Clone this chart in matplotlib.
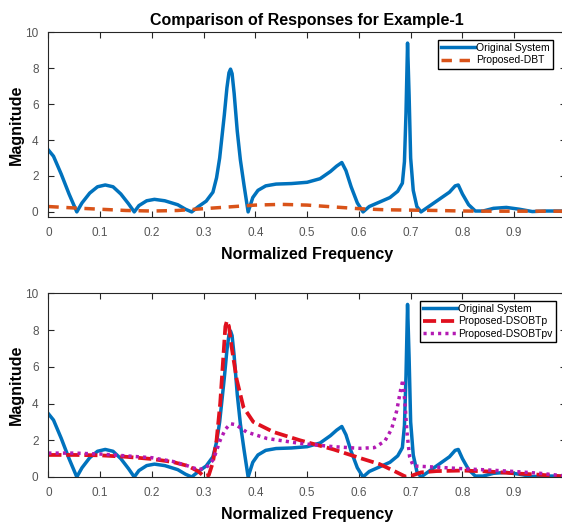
import numpy as np
import matplotlib
matplotlib.use("Agg")
import matplotlib.pyplot as plt

plt.rcParams['font.family'] = ['Liberation Sans', 'DejaVu Sans']

# Original system (same curve in both panels)
f_orig = [0.000, 0.010, 0.025, 0.040, 0.055, 0.065, 0.080, 0.095, 0.110, 0.125,
          0.140, 0.155, 0.166, 0.175, 0.190, 0.205, 0.225, 0.250, 0.265, 0.277,
          0.290, 0.305, 0.318, 0.325, 0.331, 0.340, 0.345, 0.349, 0.352, 0.355,
          0.359, 0.365, 0.371, 0.378, 0.386, 0.395, 0.405, 0.420, 0.440, 0.470,
          0.500, 0.525, 0.545, 0.557, 0.567, 0.575, 0.585, 0.597, 0.608, 0.620,
          0.640, 0.660, 0.675, 0.684, 0.688, 0.691, 0.694, 0.697, 0.700, 0.705,
          0.712, 0.720, 0.735, 0.755, 0.775, 0.786, 0.792, 0.800, 0.812, 0.825,
          0.840, 0.860, 0.885, 0.910, 0.935, 0.960, 1.000]
m_orig = [3.45, 3.10, 2.10, 1.00, 0.00, 0.50, 1.05, 1.40, 1.50, 1.40,
          1.00, 0.45, 0.00, 0.35, 0.62, 0.70, 0.62, 0.40, 0.15, 0.00,
          0.30, 0.60, 1.10, 1.90, 3.00, 5.40, 6.90, 7.75, 7.95, 7.70,
          6.60, 4.50, 2.90, 1.50, 0.00, 0.80, 1.20, 1.45, 1.55, 1.58,
          1.65, 1.85, 2.25, 2.55, 2.75, 2.30, 1.40, 0.50, 0.00, 0.30,
          0.55, 0.80, 1.15, 1.60, 2.80, 5.50, 9.40, 6.50, 3.00, 1.20,
          0.30, 0.00, 0.30, 0.70, 1.10, 1.45, 1.50, 1.00, 0.40, 0.05,
          0.05, 0.20, 0.25, 0.15, 0.02, 0.05, 0.05]

# Proposed-DBT (top panel)
f_dbt = [0.00, 0.05, 0.10, 0.15, 0.20, 0.25, 0.30, 0.35, 0.40, 0.45, 0.50,
         0.55, 0.60, 0.65, 0.70, 0.75, 0.80, 0.85, 0.90, 0.95, 1.00]
m_dbt = [0.30, 0.22, 0.15, 0.08, 0.05, 0.08, 0.18, 0.28, 0.38, 0.42, 0.38,
         0.28, 0.18, 0.12, 0.10, 0.08, 0.05, 0.04, 0.04, 0.04, 0.04]

# Proposed-DSOBTp (bottom panel)
f_p = [0.000, 0.050, 0.100, 0.150, 0.200, 0.240, 0.270, 0.290, 0.300, 0.310,
       0.318, 0.325, 0.332, 0.338, 0.342, 0.345, 0.349, 0.354, 0.364, 0.377,
       0.396, 0.435, 0.486, 0.551, 0.600, 0.640, 0.670, 0.690, 0.700, 0.720,
       0.750, 0.800, 0.850, 0.900, 0.950, 1.000]
m_p = [1.20, 1.20, 1.18, 1.10, 0.98, 0.82, 0.60, 0.30, 0.05, 0.10,
       0.80, 2.00, 4.00, 6.50, 8.20, 8.50, 8.20, 7.10, 5.30, 3.80,
       3.00, 2.45, 2.00, 1.50, 1.05, 0.70, 0.30, 0.02, 0.05, 0.25,
       0.32, 0.35, 0.30, 0.20, 0.12, 0.02]

# Proposed-DSOBTpv (bottom panel)
f_pv = [0.000, 0.050, 0.100, 0.150, 0.200, 0.240, 0.270, 0.290, 0.305, 0.319,
        0.332, 0.342, 0.352, 0.362, 0.383, 0.422, 0.486, 0.551, 0.602, 0.630,
        0.650, 0.663, 0.673, 0.681, 0.685, 0.689, 0.693, 0.698, 0.705, 0.740,
        0.800, 0.850, 0.900, 0.950, 1.000]
m_pv = [1.30, 1.30, 1.25, 1.15, 1.05, 0.85, 0.60, 0.40, 0.50, 0.95,
        2.00, 2.60, 2.90, 2.85, 2.45, 2.10, 1.83, 1.65, 1.56, 1.60,
        1.95, 2.60, 3.60, 4.80, 5.30, 4.00, 2.40, 1.10, 0.60, 0.55,
        0.45, 0.38, 0.30, 0.20, 0.05]

xticks = np.arange(0, 1.0, 0.1)
xticklabels = ['0', '0.1', '0.2', '0.3', '0.4', '0.5', '0.6', '0.7', '0.8', '0.9']
yticks = [0, 2, 4, 6, 8, 10]

BLUE = '#0072BD'
ORANGE = '#D95319'
RED = '#E0101E'
MAGENTA = '#B31AB3'
AXCOL = '#262626'

fig = plt.figure(figsize=(5.62, 5.23), dpi=100)
# axes run past the right edge of the picture, as in the reference
ax1 = fig.add_axes([0.086, 0.5845, 0.921, 0.3537])
ax2 = fig.add_axes([0.086, 0.088, 0.921, 0.351])


def style(ax, ylo):
    ax.set_xlim(0, 1)
    ax.set_ylim(ylo, 10)
    ax.set_xticks(xticks)
    ax.set_xticklabels(xticklabels)
    ax.set_yticks(yticks)
    ax.tick_params(direction='in', top=True, right=True, length=4, width=0.8,
                   labelsize=8.5, colors=AXCOL, labelcolor='#555555', pad=7)
    for s in ax.spines.values():
        s.set_color(AXCOL)
        s.set_linewidth(0.8)
    ax.set_xlabel('Normalized Frequency', fontsize=11.5, fontweight='bold', labelpad=6)
    ax.set_ylabel('Magnitude', fontsize=11.5, fontweight='bold', labelpad=1)


ax1.plot(f_orig, m_orig, color=BLUE, lw=2.5, label='Original System')
ax1.plot(f_dbt, m_dbt, color=ORANGE, lw=2.5, dashes=(3, 2.2), label='Proposed-DBT')
style(ax1, -0.3)
ax1.set_title('Comparison of Responses for Example-1', fontsize=11.5,
              fontweight='bold', pad=5)
ax1.legend(loc='upper right', bbox_to_anchor=(0.984, 0.924),
           bbox_transform=fig.transFigure, borderaxespad=0, fancybox=False,
           edgecolor='black', framealpha=1, fontsize=7.5, handlelength=3.3,
           handletextpad=0.1, labelspacing=0.25, borderpad=0.3)

ax2.plot(f_orig, m_orig, color=BLUE, lw=2.5, label='Original System')
ax2.plot(f_p, m_p, color=RED, lw=2.7, dashes=(3.5, 1.3), label='Proposed-DSOBTp')
ax2.plot(f_pv, m_pv, color=MAGENTA, lw=2.5, dashes=(0.9, 1.2), label='Proposed-DSOBTpv')
style(ax2, 0)
ax2.legend(loc='upper right', bbox_to_anchor=(0.989, 0.425),
           bbox_transform=fig.transFigure, borderaxespad=0, fancybox=False,
           edgecolor='black', framealpha=1, fontsize=7.5, handlelength=3.3,
           handletextpad=0.1, labelspacing=0.25, borderpad=0.3)

fig.savefig('out.png', dpi=100)
